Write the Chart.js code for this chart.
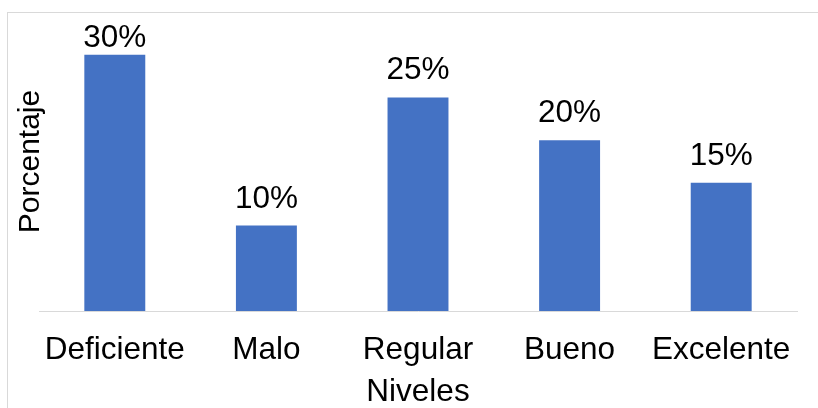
<!DOCTYPE html>
<html>
<head>
<meta charset="utf-8">
<script src="https://cdn.jsdelivr.net/npm/chart.js@4/dist/chart.umd.min.js"></script>
<style>
    html, body { margin: 0; padding: 0; background: #fff; overflow: hidden; }
    .wrap { position: relative; width: 818px; height: 408px; }
    .frame { position: absolute; left: 7px; top: 12px; width: 830px; height: 420px;
             border: 1px solid #d9d9d9; box-sizing: border-box; pointer-events: none; }
</style>
</head>
<body>
<div class="wrap">
    <canvas id="nivelesChart"></canvas>
    <div class="frame"></div>
</div>
<script>
// 数据
var categories = ['Deficiente', 'Malo', 'Regular', 'Bueno', 'Excelente'];
var percentages = [30, 10, 25, 20, 15];
var xTitle = 'Niveles';
var yTitle = 'Porcentaje';

var FONT = "'Liberation Sans', Arial, sans-serif";

/**
 * 柱顶数值标签（超出顶部时向下收）
 */
var valueLabels = {
    id: 'valueLabels',
    afterDatasetsDraw: function(chart) {
        var ctx = chart.ctx;
        var meta = chart.getDatasetMeta(0);
        var minY = chart.chartArea.top + 35;
        ctx.save();
        ctx.font = '31.5px ' + FONT;
        ctx.fillStyle = '#000';
        ctx.textAlign = 'center';
        ctx.textBaseline = 'alphabetic';
        meta.data.forEach(function(bar, i) {
            var y = Math.max(bar.y - 18, minY);
            ctx.fillText(chart.data.datasets[0].data[i] + '%', bar.x, y);
        });
        ctx.restore();
    }
};

new Chart(document.getElementById('nivelesChart'), {
    type: 'bar',
    data: {
        labels: categories,
        datasets: [{
            data: percentages,
            backgroundColor: '#4472c4',
            borderWidth: 0,
            categoryPercentage: 0.402,
            barPercentage: 1
        }]
    },
    options: {
        responsive: true,
        maintainAspectRatio: false,
        animation: false,
        layout: { padding: { left: 0, right: 21, top: 12, bottom: 0 } },
        plugins: {
            legend: { display: false },
            tooltip: { enabled: false }
        },
        scales: {
            x: {
                grid: { display: false, drawTicks: false },
                border: { display: true, color: '#d9d9d9', width: 1 },
                ticks: {
                    color: '#000',
                    padding: 20,
                    maxRotation: 0,
                    font: { family: FONT, size: 31.5 }
                },
                title: {
                    display: true,
                    text: xTitle,
                    color: '#000',
                    padding: { top: 0, bottom: 0 },
                    font: { family: FONT, size: 31.5, lineHeight: 1 }
                },
                afterFit: function(scale) { scale.height = 97; }
            },
            y: {
                min: 0,
                max: 35,
                grid: { display: false },
                border: { display: false },
                ticks: { display: false },
                title: {
                    display: true,
                    text: yTitle,
                    color: '#000',
                    padding: { top: 16, bottom: 0 },
                    font: { family: FONT, size: 30, lineHeight: 1 }
                },
                afterFit: function(scale) { scale.width = 39; }
            }
        }
    },
    plugins: [valueLabels]
});
</script>
</body>
</html>
